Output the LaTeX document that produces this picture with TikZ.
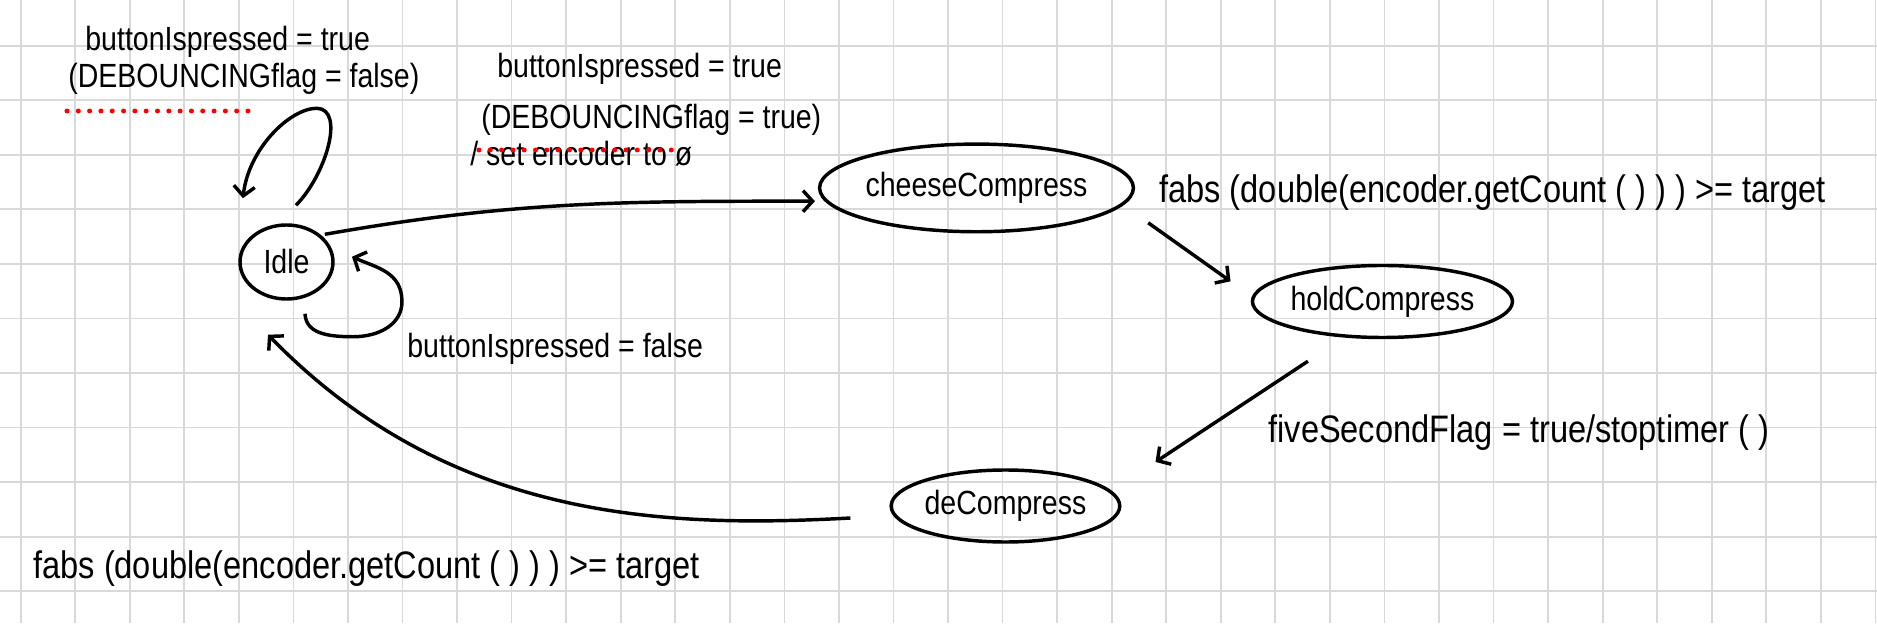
\documentclass[tikz,border=0pt]{standalone}
\usepackage{fontspec}
\setmainfont{Liberation Sans}[FakeStretch=0.85]
\usetikzlibrary{shapes.geometric,arrows.meta}
\definecolor{gridgray}{RGB}{217,217,217}
\definecolor{dotred}{RGB}{255,0,0}

\begin{document}
\begin{tikzpicture}[
  state/.style={ellipse, draw, line width=1.8pt, inner sep=0pt, font=\fontsize{17.5}{20}\selectfont},
  edge/.style={line width=1.8pt, -{Straight Barb[length=5pt,width=11pt]}},
  trans/.style={inner sep=0pt, anchor=base west, font=\fontsize{17.5}{20}\selectfont},
  bigtrans/.style={trans, font=\fontsize{20}{24}\selectfont},
  redline/.style={dotred, line width=2.6pt, line cap=round, dash pattern=on 0pt off 5.9pt}
]
\useasboundingbox (-0.379,-10.583) rectangle (34.03,0.838);
\draw[gridgray, line width=0.9pt] (-0.379,-10.583) grid (34.03,0.838);

% states
\node[state, minimum width=1.705cm, minimum height=1.357cm] (idle) at (4.873,-3.965) {Idle};
\node[state, minimum width=4.534cm, minimum height=1.607cm] (cheese) at (17.522,-2.607) {cheeseCompress};
\node[state, minimum width=4.724cm, minimum height=1.32cm] (hold) at (24.964,-4.689) {holdCompress};
\node[state, minimum width=3.758cm, minimum height=1.32cm] (decomp) at (18.053,-8.438) {deCompress};

% transition texts
\node[trans] (loopTrue) at (1.179,-0.079) {buttonIspressed = true};
\node[trans] (loopFlag) at (0.867,-0.775) {(DEBOUNCINGflag = false)};
\node[trans] (startTrue) at (8.731,-0.574) {buttonIspressed = true};
\node[trans] (startFlag) at (8.438,-1.509) {(DEBOUNCINGflag = true)};
\node[trans] (startSet) at (8.237,-2.187) {/ set encoder to ø};
\node[trans] (stayFalse) at (7.082,-5.707) {buttonIspressed = false};
\node[bigtrans] (reachHold) at (20.867,-2.883) {fabs (double(encoder.getCount ( ) ) ) >= target};
\node[bigtrans] (fiveSec) at (22.866,-7.283) {fiveSecondFlag = true/stoptimer ( )};
\node[bigtrans] (reachIdle) at (0.226,-9.758) {fabs (double(encoder.getCount ( ) ) ) >= target};

% red dots
\draw[redline] (0.849,-1.197) -- (4.369,-1.197);
\draw[redline] (8.401,-1.912) -- (11.958,-1.912);

% connectors
\draw[edge] ([shift={(0.174,0.33)}]idle.north) .. controls +(0.55,0.56) and +(0.52,-0.02) .. ++(0.385,1.778)
  .. controls +(-0.5,0) and +(0.1,0.9) .. ++(-1.357,-1.649);
\draw[edge] ([shift={(0.339,-0.239)}]idle.south) .. controls +(0.02,-0.35) and +(-0.5,0) .. ++(0.88,-0.421)
  .. controls +(0.5,0) and +(0,-0.4) .. ++(0.898,0.641)
  .. controls +(0,0.55) and +(0.45,-0.2) .. ++(-0.917,0.825);
\draw[edge, shorten <=2pt, shorten >=0.18cm] (idle.38) to[out=10, in=180] (cheese.185);
\draw[edge] ([shift={(0.24,-0.64)}]cheese.east) -- ([shift={(-0.37,0.37)}]hold.west);
\draw[edge] ([shift={(-1.366,-0.403)}]hold.south) -- ([shift={(0.623,0.807)}]decomp.east);
\draw[edge] ([shift={(-0.715,-0.22)}]decomp.west) .. controls +(-3.373,-0.183) and +(3.336,-3.428) .. ([shift={(-0.339,-0.623)}]idle.south);
\end{tikzpicture}
\end{document}
